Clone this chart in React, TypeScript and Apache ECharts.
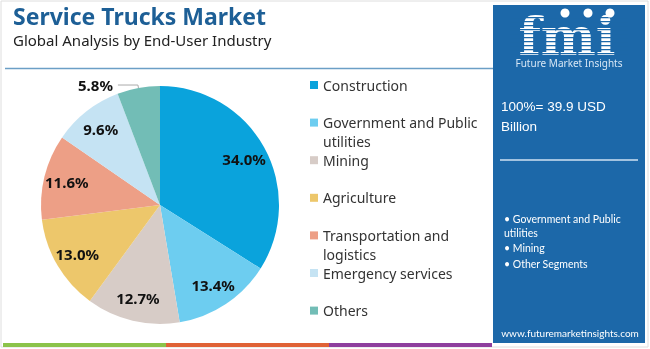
import React, { useEffect, useRef } from 'react';
import * as echarts from 'echarts';

const categories = [
  'Construction',
  'Government and Public utilities',
  'Mining',
  'Agriculture',
  'Transportation and logistics',
  'Emergency services',
  'Others',
];
const shares = [34.0, 13.4, 12.7, 13.0, 11.6, 9.6, 5.8];
const sliceColors = ['#0aa3dc', '#6dcdf0', '#d7ccc7', '#edc76b', '#ed9f86', '#c5e3f3', '#72bdb6'];
const legendLabels = [
  'Construction',
  'Government and Public\nutilities',
  'Mining',
  'Agriculture',
  'Transportation and\nlogistics',
  'Emergency services',
  'Others',
];
const highlights = ['\u2022 Government and Public', 'utilities', '\u2022 Mining', '\u2022 Other Segments'];
const totalLines = ['100%= 39.9 USD', 'Billion'];
const stripColors = ['#8bc34a', '#e06236', '#8e3e9e'];
const outsideLabelCategory = 'Others';

const TITLE = 'Service Trucks Market';
const SUBTITLE = 'Global Analysis by End-User Industry';
const URL = 'www.futuremarketinsights.com';

export default function App() {
  const ref = useRef<HTMLDivElement>(null);

  useEffect(() => {
    document.body.style.margin = '0';
    const chart = echarts.init(ref.current!, null, { renderer: 'svg' });
    const labelFont = "'Noto Sans', sans-serif";

    const mainData = categories.map((name, i) => {
      const item: any = { name, value: shares[i], itemStyle: { color: sliceColors[i] } };
      if (name === outsideLabelCategory) {
        item.label = {
          show: true,
          position: 'outside',
          formatter: (p: any) => p.value.toFixed(1) + '%',
          color: '#111',
          fontWeight: 'bold',
          fontSize: 15,
          fontFamily: labelFont,
        };
        item.labelLine = { show: true, length: 3, length2: 20, lineStyle: { color: '#aaa', width: 1 } };
      }
      return item;
    });

    const overlayData = categories.map((name, i) => ({
      name,
      value: shares[i],
      label: { show: name !== outsideLabelCategory },
    }));

    const stripW = (492 - 3) / stripColors.length;
    const graphics: any[] = [
      { type: 'rect', shape: { x: 1, y: 1, width: 647, height: 346 }, style: { fill: '#fff', stroke: '#dedede', lineWidth: 1 }, z: -10 },
      { type: 'text', x: 13, y: 16, style: { text: TITLE, fill: '#1d5f96', font: "bold 23px 'Noto Sans', sans-serif", verticalAlign: 'middle' } },
      { type: 'text', x: 13, y: 40, style: { text: SUBTITLE, fill: '#222', font: "15px 'Noto Sans', sans-serif", verticalAlign: 'middle' } },
      { type: 'line', shape: { x1: 5, y1: 68.5, x2: 493, y2: 68.5 }, style: { stroke: '#6b9fc6', lineWidth: 1.5 } },
      { type: 'rect', shape: { x: 493, y: 5, width: 152, height: 338 }, style: { fill: '#1c68a9' } },
      { type: 'text', x: 567, y: 36, style: { text: 'fmi', fill: '#fff', font: "bold 52px 'DejaVu Serif', serif", lineHeight: 34, align: 'center', verticalAlign: 'middle' } },
    ];
    for (let k = 0; k < 10; k++) {
      graphics.push({ type: 'rect', shape: { x: 510, y: 17 + k * 4, width: 118, height: 1.2 }, style: { fill: '#1c68a9' } });
    }
    [565, 588, 610].forEach((cx) => {
      graphics.push({ type: 'circle', shape: { cx, cy: 13, r: 4.5 }, style: { fill: '#fff' } });
    });
    graphics.push(
      { type: 'text', x: 569, y: 62.5, style: { text: 'Future Market Insights', fill: '#d6e6f5', font: "10px 'Noto Sans', sans-serif", align: 'center', verticalAlign: 'middle' } },
    );
    totalLines.forEach((t, i) => {
      graphics.push({ type: 'text', x: 501, y: 106 + i * 20, style: { text: t, fill: '#fff', font: "13.5px 'Liberation Sans', sans-serif", verticalAlign: 'middle' } });
    });
    graphics.push({ type: 'line', shape: { x1: 500, y1: 160, x2: 638, y2: 160 }, style: { stroke: '#cfe2f3', lineWidth: 1.5 } });
    const hlY = [219, 233, 248, 264];
    highlights.forEach((t, i) => {
      graphics.push({ type: 'text', x: 504, y: hlY[i], style: { text: t, fill: '#fff', font: "10.5px Lato, sans-serif", verticalAlign: 'middle' } });
    });
    graphics.push({ type: 'text', x: 570, y: 333, style: { text: URL, fill: '#fff', font: "10px Lato, sans-serif", align: 'center', verticalAlign: 'middle' } });
    stripColors.forEach((c, i) => {
      graphics.push({ type: 'rect', shape: { x: 3 + i * stripW, y: 343, width: stripW, height: 4 }, style: { fill: c } });
    });

    const legends = categories.map((name, i) => {
      const multi = legendLabels[i].includes('\n');
      const center = 85 + i * 37.6;
      return {
        data: [{ name, itemStyle: { color: sliceColors[i] } }],
        orient: 'vertical',
        left: 310,
        top: multi ? center - 28.5 : center - 9.5,
        padding: 0,
        itemWidth: 8,
        itemHeight: 8,
        icon: 'rect',
        selectedMode: false,
        formatter: (n: string) => {
          const s = legendLabels[categories.indexOf(n)];
          return s.includes('\n') ? ' \n' + s : s;
        },
        textStyle: {
          fontSize: 14,
          color: '#333',
          fontFamily: labelFont,
          lineHeight: 19,
        },
      };
    });

    chart.setOption({
      animation: false,
      graphic: graphics,
      legend: legends,
      series: [
        {
          type: 'pie',
          center: [160, 205],
          radius: 119,
          startAngle: 90,
          clockwise: true,
          silent: true,
          label: { show: false },
          labelLine: { show: false },
          itemStyle: { borderWidth: 0 },
          data: mainData,
        },
        {
          type: 'pie',
          center: [160, 205],
          radius: [70, 116],
          startAngle: 90,
          clockwise: true,
          silent: true,
          legendHoverLink: false,
          itemStyle: { color: 'rgba(0,0,0,0)' },
          label: {
            show: true,
            position: 'inside',
            formatter: (p: any) => p.value.toFixed(1) + '%',
            color: '#111',
            fontWeight: 'bold',
            fontSize: 15,
            fontFamily: labelFont,
          },
          labelLine: { show: false },
          data: overlayData,
        },
      ],
    });
    return () => chart.dispose();
  }, []);

  return <div ref={ref} style={{ position: 'fixed', left: 0, top: 0, width: 650, height: 349 }} />;
}
